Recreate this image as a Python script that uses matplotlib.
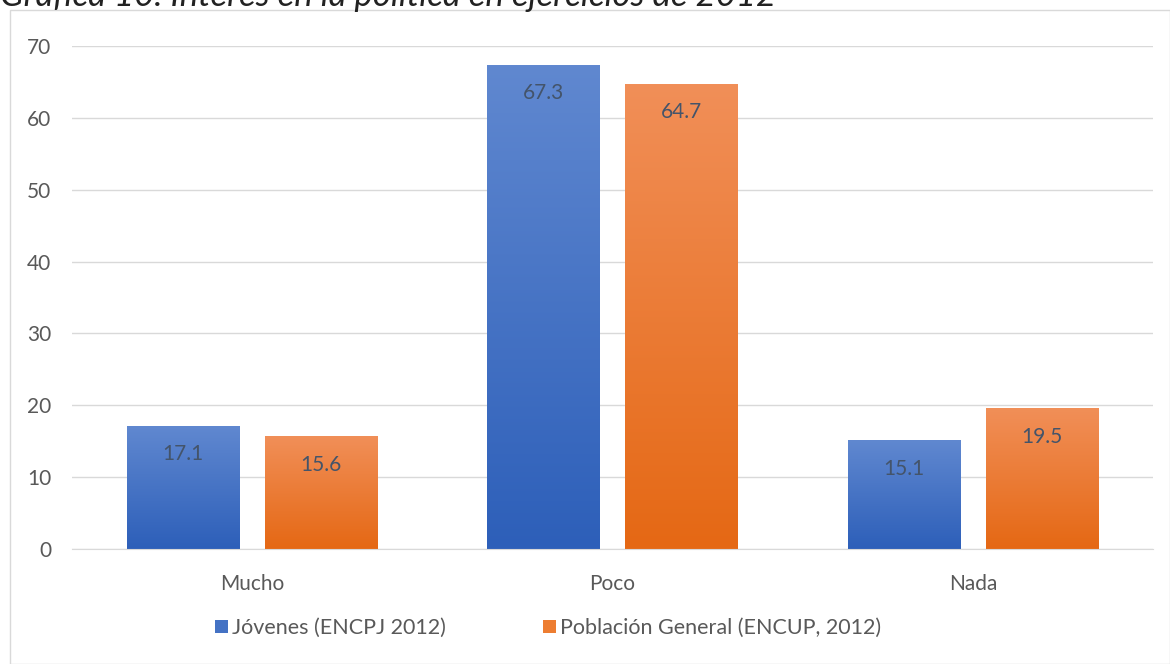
import matplotlib.pyplot as plt
import numpy as np
from matplotlib.colors import LinearSegmentedColormap
from matplotlib.patches import Rectangle

categorias = ["Mucho", "Poco", "Nada"]
jovenes = [17.1, 67.3, 15.1]
poblacion = [15.6, 64.7, 19.5]
series = ["Jóvenes (ENCPJ 2012)", "Población General (ENCUP, 2012)"]
titulo = "Gráfica 10. Interés en la política en ejercicios de 2012"

plt.rcParams['font.family'] = ['Lato', 'DejaVu Sans']

azul = LinearSegmentedColormap.from_list("azul", ["#2d5fb9", "#6088d0"])
naranja = LinearSegmentedColormap.from_list("naranja", ["#e56814", "#f18f58"])

fig = plt.figure(figsize=(11.7, 6.64), dpi=100)
W, H = 1170, 664

# marco del grafico
fig.patches.append(Rectangle((10 / W, 0), 1 - 10 / W, 1 - 10 / H, transform=fig.transFigure,
                             fill=False, edgecolor="#d9d9d9", linewidth=1))
fig.text(0.0, 1 - 6 / H, titulo, fontsize=25, style="italic", color="#222222",
         va="baseline", ha="left")

ax = fig.add_axes([72 / W, (H - 549) / H, (1153 - 72) / W, (549 - 46) / H])
x = np.arange(len(categorias))
ancho = 0.311
sep = 0.072
grad = np.linspace(0, 1, 256).reshape(-1, 1)

for valores, cmap, desp in [(jovenes, azul, -(ancho + sep) / 2), (poblacion, naranja, (ancho + sep) / 2)]:
    barras = ax.bar(x + desp, valores, ancho, color="none", zorder=2)
    for b, v in zip(barras, valores):
        x0 = b.get_x()
        ax.imshow(grad, cmap=cmap, aspect="auto", origin="lower",
                  extent=[x0, x0 + ancho, 0, v], zorder=2)
        ax.text(x0 + ancho / 2, v - 3.9, f"{v:.1f}", ha="center", va="center",
                fontsize=15, color="#44546a", zorder=3)

ax.set_xlim(-0.5, 2.5)
ax.set_ylim(0, 70)
ax.set_yticks(range(0, 71, 10))
ax.set_xticks(x)
ax.set_xticklabels(categorias)
ax.grid(axis="y", color="#d9d9d9", linewidth=1, zorder=0)
ax.set_axisbelow(True)
for s in ax.spines.values():
    s.set_visible(False)
ax.spines["bottom"].set_visible(True)
ax.spines["bottom"].set_color("#d9d9d9")
ax.tick_params(length=0, labelsize=15, labelcolor="#595959")
ax.tick_params(axis="y", pad=15)
ax.tick_params(axis="x", pad=18)

handles = [Rectangle((0, 0), 1, 1, facecolor="#4472c4"),
           Rectangle((0, 0), 1, 1, facecolor="#ed7d31")]
fig.legend(handles, series, loc="center", bbox_to_anchor=(548 / W, (H - 628) / H), ncol=2,
           frameon=False, fontsize=15.5, handlelength=0.6, handleheight=0.6,
           handletextpad=0.2, columnspacing=4.5, labelcolor="#595959")

fig.savefig("out.png", dpi=100)
